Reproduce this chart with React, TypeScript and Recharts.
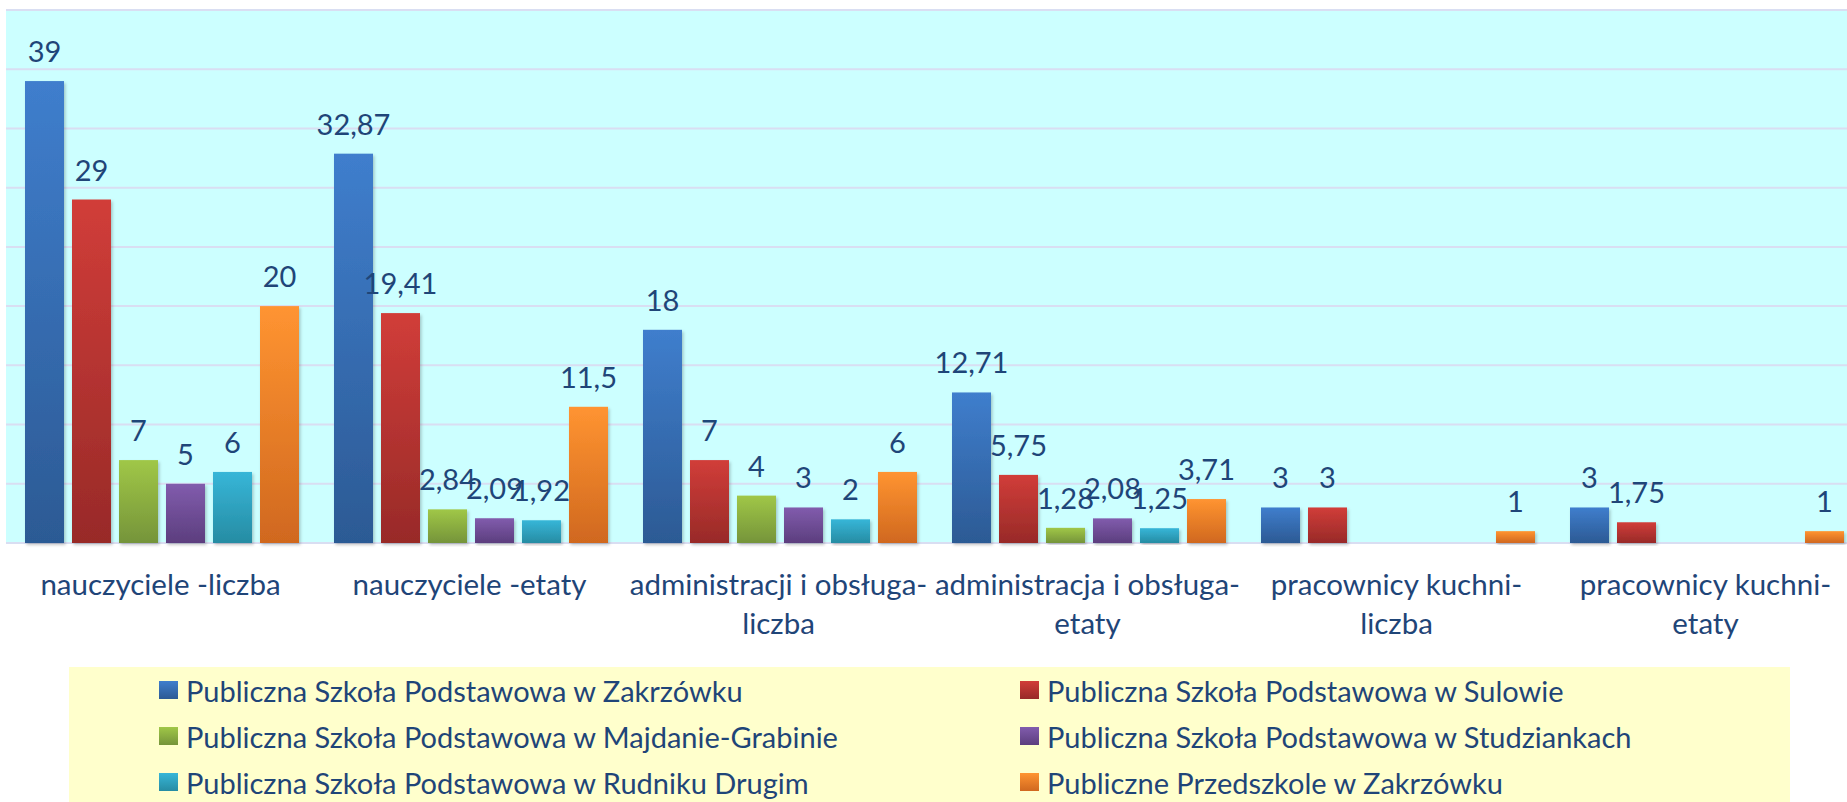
import React from "react";
import {
  BarChart,
  Bar,
  XAxis,
  YAxis,
  CartesianGrid,
  Legend,
  LabelList,
} from "recharts";

const categories = [
  "nauczyciele -liczba",
  "nauczyciele -etaty",
  "administracji i obsługa-liczba",
  "administracja i obsługa-etaty",
  "pracownicy kuchni-liczba",
  "pracownicy kuchni-etaty",
];

const zakrzowek = [39, 32.87, 18, 12.71, 3, 3];
const sulow = [29, 19.41, 7, 5.75, 3, 1.75];
const majdan = [7, 2.84, 4, 1.28, null, null];
const studzianki = [5, 2.09, 3, 2.08, null, null];
const rudnik = [6, 1.92, 2, 1.25, null, null];
const przedszkole = [20, 11.5, 6, 3.71, 1, 1];

const yTicks = [0, 5, 10, 15, 20, 25, 30, 35, 40, 45];

const series = [
  { key: "zak", name: "Publiczna Szkoła Podstawowa w Zakrzówku", values: zakrzowek, top: "#3F7ECD", bottom: "#2C5A94" },
  { key: "sul", name: "Publiczna Szkoła Podstawowa w Sulowie", values: sulow, top: "#D13D39", bottom: "#982A28" },
  { key: "maj", name: "Publiczna Szkoła Podstawowa w Majdanie-Grabinie", values: majdan, top: "#A0C747", bottom: "#75943A" },
  { key: "stu", name: "Publiczna Szkoła Podstawowa w Studziankach", values: studzianki, top: "#815CAD", bottom: "#5C3E7E" },
  { key: "rud", name: "Publiczna Szkoła Podstawowa w Rudniku Drugim", values: rudnik, top: "#37B6D8", bottom: "#268CA3" },
  { key: "prz", name: "Publiczne Przedszkole w Zakrzówku", values: przedszkole, top: "#FF9431", bottom: "#D0681F" },
];

const data = categories.map((name, i) => {
  const row: Record<string, string | number | null> = { name };
  series.forEach((s) => {
    row[s.key] = s.values[i];
  });
  return row;
});

const TEXT = "#1F4578";
const FONT = "Lato, 'Open Sans', sans-serif";

const fmt = (v: unknown) =>
  v === null || v === undefined ? "" : String(v).replace(".", ",");

function CategoryTick(props: any) {
  const { x, y, payload } = props;
  // break after a hyphen glued to a word, like Excel's wrapping
  const lines = String(payload.value).split(/(?<=\S-)/);
  return (
    <text x={x} y={y} textAnchor="middle" fill={TEXT} fontSize={29.5} fontFamily={FONT}>
      {lines.map((l, i) => (
        <tspan key={i} x={x} dy={i === 0 ? 52 : 39}>
          {l}
        </tspan>
      ))}
    </text>
  );
}

function LegendBox() {
  return (
    <div style={{ position: "relative", height: 135, background: "#FFFFCC", fontFamily: FONT }}>
      {series.map((s, i) => (
        <div
          key={s.key}
          style={{
            position: "absolute",
            left: i % 2 === 0 ? 90 : 951,
            top: Math.floor(i / 2) * 46,
            height: 46,
            display: "flex",
            alignItems: "center",
            whiteSpace: "nowrap",
          }}
        >
          <span
            style={{
              display: "inline-block",
              width: 19,
              height: 18,
              marginRight: 8,
              background: `linear-gradient(${s.top}, ${s.bottom})`,
            }}
          />
          <span style={{ fontSize: 29, color: TEXT }}>{s.name}</span>
        </div>
      ))}
    </div>
  );
}

export default function App() {
  return (
    <div style={{ position: "absolute", left: 0, top: 0, width: 1847, height: 802, overflow: "hidden", background: "#fff" }}>
      <BarChart
        width={1860}
        height={802}
        data={data}
        margin={{ top: 10, right: 0, left: 6, bottom: 0 }}
        barCategoryGap={19}
        barGap={8}
      >
        <defs>
          {series.map((s) => (
            <linearGradient key={s.key} id={`grad-${s.key}`} x1="0" y1="0" x2="0" y2="1">
              <stop offset="0%" stopColor={s.top} />
              <stop offset="100%" stopColor={s.bottom} />
            </linearGradient>
          ))}
          <filter id="barShadow" x="-20%" y="-5%" width="140%" height="115%">
            <feDropShadow dx="1.5" dy="2" stdDeviation="1.5" floodColor="#000" floodOpacity="0.22" />
          </filter>
        </defs>
        <CartesianGrid vertical={false} fill="#CCFFFF" stroke="#D9DEF2" strokeWidth={2} />
        <XAxis
          dataKey="name"
          interval={0}
          tickLine={false}
          axisLine={false}
          tickSize={0}
          tickMargin={0}
          height={124}
          tick={<CategoryTick />}
        />
        <YAxis hide domain={[0, 45]} ticks={yTicks} />
        <Legend
          verticalAlign="bottom"
          content={<LegendBox />}
          wrapperStyle={{ left: 69, width: 1721, bottom: 0 }}
        />
        {series.map((s) => (
          <Bar
            key={s.key}
            dataKey={s.key}
            name={s.name}
            fill={`url(#grad-${s.key})`}
            isAnimationActive={false}
            shape={(p: any) =>
              p.height > 0 ? (
                <rect
                  x={p.x}
                  y={p.y}
                  width={p.width}
                  height={p.height}
                  fill={`url(#grad-${s.key})`}
                  filter="url(#barShadow)"
                />
              ) : null
            }
          >
            <LabelList
              dataKey={s.key}
              position="top"
              offset={19}
              formatter={fmt}
              fill={TEXT}
              fontSize={29}
              fontFamily={FONT}
            />
          </Bar>
        ))}
      </BarChart>
    </div>
  );
}
